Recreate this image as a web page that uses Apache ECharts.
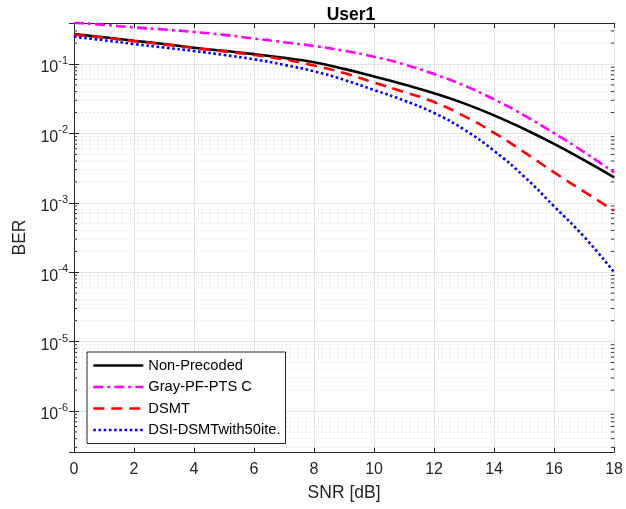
<!DOCTYPE html>
<html>
<head>
<meta charset="utf-8">
<script src="https://cdn.jsdelivr.net/npm/echarts@6/dist/echarts.min.js"></script>
<style>
  html, body { margin: 0; padding: 0; background: #fff; }
  #chart { width: 626px; height: 509px; }
</style>
</head>
<body>
<div id="chart"></div>
<script>
// SNR sweep in dB
const snr = [0, 1, 2, 3, 4, 5, 6, 7, 8, 9, 10, 11, 12, 13, 14, 15, 16, 17, 18];

// BER curves for each scheme
const berNonPrecoded = [0.270, 0.243, 0.217, 0.194, 0.172, 0.155, 0.139, 0.1225, 0.106, 0.0851, 0.0661, 0.0507, 0.038, 0.0271, 0.0182, 0.0116, 0.00708, 0.00412, 0.00233];
const berGrayPF = [0.395, 0.366, 0.337, 0.314, 0.290, 0.263, 0.233, 0.2065, 0.182, 0.155, 0.1274, 0.0989, 0.0716, 0.049, 0.0309, 0.0182, 0.0101, 0.00537, 0.00275];
const berDSMT = [0.265, 0.24, 0.214, 0.192, 0.17, 0.152, 0.135, 0.116, 0.0951, 0.0741, 0.054, 0.0395, 0.0283, 0.0178, 0.0102, 0.00537, 0.00275, 0.00145, 0.00077];
const berDSI = [0.247, 0.22, 0.194, 0.173, 0.154, 0.135, 0.117, 0.0973, 0.0785, 0.0592, 0.0422, 0.0298, 0.0197, 0.01138, 0.00562, 0.0024, 0.00089, 0.000324, 0.0001];

const seriesNames = ['Non-Precoded', 'Gray-PF-PTS C', 'DSMT', 'DSI-DSMTwith50ite.'];

const yMin = 2.57e-7;
const yMax = 0.39;

// minor log grid positions (2..9 x 10^k)
const minorVals = [];
for (let k = -7; k <= 0; k++) {
  for (let m = 2; m <= 9; m++) {
    const v = m * Math.pow(10, k);
    if (v > yMin && v < yMax) minorVals.push(v);
  }
}

const pairs = (ys) => snr.map((x, i) => [x, ys[i]]);

const axisColor = '#262626';
const font = 'Liberation Sans, Arial, Helvetica, sans-serif';

function powLabel(v) {
  const l = Math.log10(v);
  const e = Math.round(l);
  if (Math.abs(l - e) > 1e-6) return '';
  return '{b|10}{e|' + e + '}';
}

const chart = echarts.init(document.getElementById('chart'), null, { renderer: 'canvas' });

const lineBase = { type: 'line', showSymbol: false, symbol: 'none', smooth: 0.5, z: 5 };

chart.setOption({
  animation: false,
  backgroundColor: '#fff',
  title: {
    text: 'User1',
    left: 346, top: 1, textAlign: 'center',
    textStyle: { fontFamily: font, fontSize: 17.5, fontWeight: 'bold', color: '#000' }
  },
  grid: { left: 74, right: 8, top: 23, bottom: 57, containLabel: false },
  legend: {
    orient: 'vertical',
    left: 87, top: 352,
    padding: [6, 5, 6, 5],
    itemWidth: 50, itemHeight: 14, itemGap: 6.5,
    backgroundColor: '#fff',
    borderColor: axisColor, borderWidth: 1,
    itemStyle: { opacity: 0 },
    lineStyle: { width: 2.6 },
    textStyle: { fontFamily: font, fontSize: 14.7, color: '#000' },
    data: seriesNames,
    z: 10
  },
  xAxis: [
    {
      type: 'value', min: 0, max: 18, interval: 2,
      name: 'SNR [dB]', nameLocation: 'middle', nameGap: 32,
      nameTextStyle: { fontFamily: font, fontSize: 17.5, color: axisColor },
      axisLine: { show: true, lineStyle: { color: axisColor, width: 1 } },
      axisTick: { show: true, inside: true, length: 5, lineStyle: { color: axisColor } },
      axisLabel: { fontFamily: font, fontSize: 16, color: axisColor, margin: 10 },
      splitLine: { show: true, lineStyle: { color: '#e2e2e2', width: 1 } }
    },
    {
      type: 'value', min: 0, max: 18, interval: 2, position: 'top',
      axisLine: { show: true, lineStyle: { color: axisColor, width: 1 } },
      axisTick: { show: true, inside: true, length: 5, lineStyle: { color: axisColor } },
      axisLabel: { show: false }, splitLine: { show: false }
    }
  ],
  yAxis: [
    {
      type: 'log', logBase: 10, min: yMin, max: yMax,
      name: 'BER', nameLocation: 'middle', nameGap: 43,
      nameTextStyle: { fontFamily: font, fontSize: 17.5, color: axisColor },
      axisLine: { show: true, lineStyle: { color: axisColor, width: 1 } },
      axisTick: { show: true, inside: true, length: 5, lineStyle: { color: axisColor } },
      axisLabel: {
        formatter: powLabel, margin: 6,
        rich: {
          b: { fontFamily: font, fontSize: 16, color: axisColor, padding: [8, 0, 0, 0] },
          e: { fontFamily: font, fontSize: 11, color: axisColor, padding: [0, 0, 6, 0] }
        }
      },
      splitLine: { show: true, lineStyle: { color: '#e2e2e2', width: 1 } }
    },
    {
      type: 'log', logBase: 10, min: yMin, max: yMax, position: 'right',
      axisLine: { show: true, lineStyle: { color: axisColor, width: 1 } },
      axisTick: { show: true, inside: true, length: 5, lineStyle: { color: axisColor } },
      axisLabel: { show: false }, splitLine: { show: false }
    }
  ],
  series: [
    {
      // dotted minor grid and minor ticks of the log axis
      type: 'custom', silent: true, z: 1,
      data: minorVals.map(v => [v]),
      encode: { y: 0 },
      renderItem: function (params, api) {
        const v = api.value(0);
        const a = api.coord([0, v]);
        const b = api.coord([18, v]);
        return {
          type: 'group',
          children: [
            { type: 'line', shape: { x1: a[0], y1: a[1], x2: b[0], y2: b[1] },
              style: { stroke: '#cfcfcf', lineWidth: 1, lineDash: [1, 3] } },
            { type: 'line', shape: { x1: a[0], y1: a[1], x2: a[0] + 3, y2: a[1] },
              style: { stroke: axisColor, lineWidth: 1 } },
            { type: 'line', shape: { x1: b[0], y1: b[1], x2: b[0] - 3, y2: b[1] },
              style: { stroke: axisColor, lineWidth: 1 } }
          ]
        };
      }
    },
    Object.assign({}, lineBase, {
      name: seriesNames[0], data: pairs(berNonPrecoded), z: 6,
      lineStyle: { color: '#000000', width: 2.6, type: 'solid' },
      itemStyle: { color: '#000000' }
    }),
    Object.assign({}, lineBase, {
      name: seriesNames[1], data: pairs(berGrayPF),
      lineStyle: { color: '#ff00ff', width: 2.6, type: [10, 4, 3, 4] },
      itemStyle: { color: '#ff00ff' }
    }),
    Object.assign({}, lineBase, {
      name: seriesNames[2], data: pairs(berDSMT), z: 7,
      lineStyle: { color: '#ff0000', width: 2.6, type: [11, 7] },
      itemStyle: { color: '#ff0000' }
    }),
    Object.assign({}, lineBase, {
      name: seriesNames[3], data: pairs(berDSI), z: 7,
      lineStyle: { color: '#0000ff', width: 2.6, type: [2.6, 2.6] },
      itemStyle: { color: '#0000ff' }
    })
  ]
});
</script>
</body>
</html>
